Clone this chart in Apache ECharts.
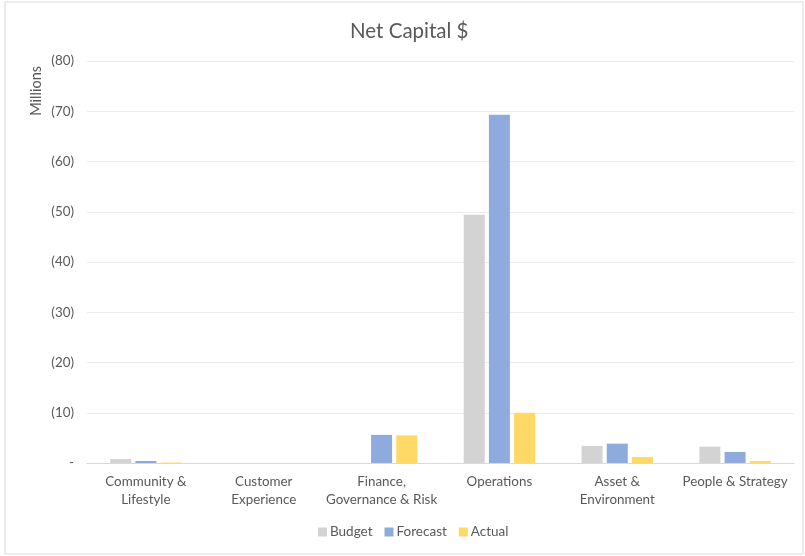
<!DOCTYPE html>
<html><head><meta charset="utf-8">
<script src="https://cdn.jsdelivr.net/npm/echarts@6/dist/echarts.min.js"></script>
<style>html,body{margin:0;padding:0;background:#fff}#c{width:805px;height:556px}</style>
</head><body><div id="c"></div>
<script>
const categories = ["Community &\nLifestyle", "Customer\nExperience", "Finance,\nGovernance & Risk", "Operations", "Asset &\nEnvironment", "People & Strategy"];
const budget = [0.8, 0, 0, 49.4, 3.4, 3.25];
const forecast = [0.4, 0, 5.6, 69.3, 3.85, 2.2];
const actual = [0.1, 0, 5.5, 10.0, 1.2, 0.4];
const yTicks = [0, 10, 20, 30, 40, 50, 60, 70, 80];

const FONT = 'Lato, "Open Sans", sans-serif';
const TXT = '#595959';
const chart = echarts.init(document.getElementById('c'));
chart.setOption({
  animation: false,
  textStyle: { fontFamily: FONT },
  graphic: [{
    type: 'rect', shape: { x: 5, y: 2, width: 798, height: 552 },
    style: { fill: 'none', stroke: '#d9d9d9', lineWidth: 1 }, silent: true
  }, {
    type: 'text', left: 29, top: 66, rotation: Math.PI / 2,
    style: { text: 'Millions', fill: TXT, font: '14.5px ' + FONT }, silent: true
  }],
  title: {
    text: 'Net Capital $', left: 345, top: 16,
    textStyle: { fontFamily: FONT, fontSize: 20.5, fontWeight: 'normal', color: TXT }
  },
  legend: {
    bottom: 12, left: 313, itemWidth: 9, itemHeight: 9, itemGap: 12,
    icon: 'rect',
    textStyle: { fontFamily: FONT, fontSize: 13.5, color: TXT, padding: [0, 0, 0, -2] },
    data: ['Budget', 'Forecast', 'Actual']
  },
  grid: { left: 87, right: 11, top: 61, bottom: 93, containLabel: false },
  xAxis: {
    type: 'category', data: categories,
    axisLine: { lineStyle: { color: '#d9d9d9', width: 1 } },
    axisTick: { show: false },
    axisLabel: { fontFamily: FONT, fontSize: 13.4, color: TXT, lineHeight: 18, margin: 10, interval: 0 }
  },
  yAxis: {
    type: 'value', min: 0, max: 80, interval: 10,
    axisLine: { show: false }, axisTick: { show: false },
    splitLine: { lineStyle: { color: '#ececec', width: 1 } },
    axisLabel: {
      fontFamily: FONT, fontSize: 13.4, color: TXT, margin: 13,
      formatter: v => yTicks.includes(v) ? (v === 0 ? '-' : '(' + v + ')') : ''
    }
  },
  series: [
    { name: 'Budget', type: 'bar', data: budget, itemStyle: { color: '#d3d3d3' }, barWidth: 21, barGap: '20%' },
    { name: 'Forecast', type: 'bar', data: forecast, itemStyle: { color: '#8faadc' }, barWidth: 21, barGap: '20%' },
    { name: 'Actual', type: 'bar', data: actual, itemStyle: { color: '#ffd966' }, barWidth: 21, barGap: '20%' }
  ]
});
</script></body></html>
